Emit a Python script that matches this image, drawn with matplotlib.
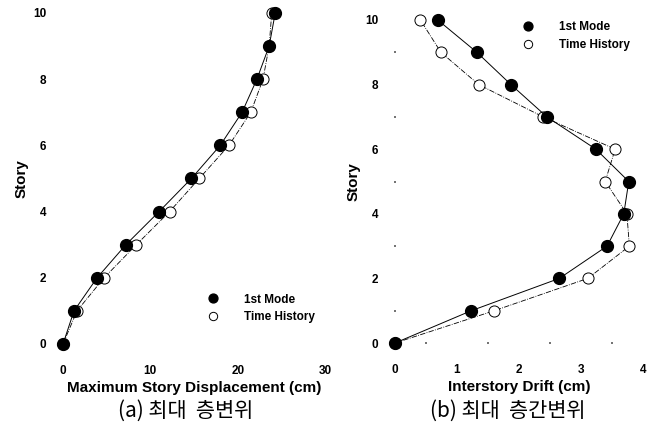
import numpy as np
import matplotlib
matplotlib.use('Agg')
import matplotlib.pyplot as plt

plt.rcParams['font.family'] = ['Liberation Sans', 'DejaVu Sans']

story = [0, 1, 2, 3, 4, 5, 6, 7, 8, 9, 10]

# (a) maximum story displacement (cm)
disp_mode = [0, 1.26, 3.9, 7.2, 11.0, 14.7, 18.0, 20.5, 22.2, 23.6, 24.3]
disp_th   = [0, 1.6, 4.7, 8.4, 12.2, 15.6, 19.0, 21.5, 22.9, 23.6, 23.9]

# (b) interstory drift (cm)
drift_mode = [0, 1.23, 2.65, 3.42, 3.69, 3.77, 3.24, 2.45, 1.87, 1.32, 0.69]
drift_th   = [0, 1.60, 3.11, 3.78, 3.74, 3.39, 3.55, 2.39, 1.35, 0.74, 0.41]

fig = plt.figure(figsize=(6.64, 4.30), dpi=100)
ax1 = fig.add_axes([0.0949, 0.2, 0.3946, 0.7698])
ax2 = fig.add_axes([0.5949, 0.2023, 0.3735, 0.7512])

def style(ax):
    for s in ax.spines.values():
        s.set_visible(False)
    ax.tick_params(length=0, labelsize=8.5)
    ax.tick_params(axis='x', pad=15)
    ax.tick_params(axis='y', pad=12)
    for lab in ax.get_xticklabels() + ax.get_yticklabels():
        lab.set_fontweight('bold')

# left
h1, = ax1.plot(disp_mode, story, '-', color='black', lw=0.7, marker='o',
               ms=8.5, mfc='black', mec='black', clip_on=False)
h2, = ax1.plot(disp_th, story, '-.', color='black', lw=0.6, marker='o',
               ms=8, mfc='white', mec='black', mew=0.7, clip_on=False, zorder=1)
ax1.set_xlim(0, 30)
ax1.set_ylim(0, 10)
ax1.set_xticks([0, 10, 20, 30])
ax1.set_yticks([0, 2, 4, 6, 8, 10])
style(ax1)
ax1.set_xlabel('Maximum Story Displacement (cm)', fontsize=11, fontweight='bold', labelpad=3)
ax1.set_ylabel('Story', fontsize=11, fontweight='bold', labelpad=3)
ax1.legend([h1, h2], ['1st Mode', 'Time History'], frameon=False,
           prop={'weight': 'bold', 'size': 8.5}, handlelength=0, handletextpad=2.6,
           markerscale=0.75, loc='lower right', bbox_to_anchor=(1.0, 0.03))
fig.text(0.28, 0.03, '(a) 최대  층변위', fontsize=15, ha='center',
         family=['Noto Sans CJK KR', 'DejaVu Sans'])

# right
g1, = ax2.plot(drift_mode, story, '-', color='black', lw=0.7, marker='o',
               ms=8.5, mfc='black', mec='black', clip_on=False)
g2, = ax2.plot(drift_th, story, '-.', color='black', lw=0.6, marker='o',
               ms=8, mfc='white', mec='black', mew=0.7, clip_on=False, zorder=1)
ax2.set_xlim(0, 4)
ax2.set_ylim(0, 10)
ax2.set_xticks([0, 1, 2, 3, 4])
ax2.set_yticks([0, 2, 4, 6, 8, 10])
style(ax2)
# faint dotted tick marks along the axes
ax2.set_xticks(np.arange(0.5, 4.01, 0.5), minor=True)
ax2.set_yticks([1, 3, 5, 7, 9], minor=True)
ax2.tick_params(which='minor', length=1.2, width=1.2, color='0.35', direction='inout')
ax2.set_xlabel('Interstory Drift (cm)', fontsize=11, fontweight='bold', labelpad=3)
ax2.set_ylabel('Story', fontsize=11, fontweight='bold', labelpad=3)
ax2.legend([g1, g2], ['1st Mode', 'Time History'], frameon=False,
           prop={'weight': 'bold', 'size': 8.5}, handlelength=0, handletextpad=2.6,
           markerscale=0.75, loc='upper right', bbox_to_anchor=(0.99, 1.03))
fig.text(0.765, 0.03, '(b) 최대  층간변위', fontsize=15, ha='center',
         family=['Noto Sans CJK KR', 'DejaVu Sans'])

fig.savefig('out.png', dpi=100)
